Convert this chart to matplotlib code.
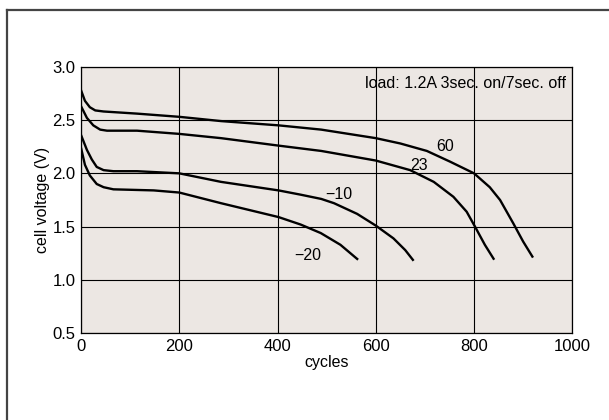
import matplotlib
matplotlib.use("Agg")
import matplotlib.pyplot as plt
from matplotlib.lines import Line2D

# Cell voltage vs. cycle count at different temperatures (°C)
cycles_60 = [0, 8, 18, 29, 46, 114, 200, 285, 402, 489, 600, 650, 704, 751,
             800, 832, 853, 880, 900, 920]
volts_60 = [2.78, 2.68, 2.62, 2.59, 2.58, 2.56, 2.53, 2.49, 2.45, 2.41, 2.33,
            2.28, 2.21, 2.11, 2.00, 1.87, 1.75, 1.53, 1.36, 1.21]

cycles_23 = [0, 12, 25, 39, 53, 114, 200, 285, 402, 489, 600, 670, 718, 758,
             785, 802, 822, 841]
volts_23 = [2.63, 2.52, 2.45, 2.41, 2.40, 2.40, 2.37, 2.33, 2.26, 2.21, 2.12,
            2.03, 1.92, 1.78, 1.64, 1.50, 1.33, 1.19]

cycles_m10 = [0, 12, 22, 32, 46, 66, 114, 200, 285, 402, 447, 489, 515, 562,
              600, 636, 660, 677]
volts_m10 = [2.36, 2.22, 2.13, 2.06, 2.03, 2.02, 2.02, 2.00, 1.92, 1.84, 1.80,
             1.76, 1.72, 1.62, 1.51, 1.39, 1.28, 1.18]

cycles_m20 = [0, 8, 18, 32, 46, 66, 148, 200, 285, 402, 447, 488, 528, 564]
volts_m20 = [2.24, 2.08, 1.98, 1.90, 1.87, 1.85, 1.84, 1.82, 1.72, 1.59, 1.52,
             1.44, 1.33, 1.19]

curve_labels = ["60", "23", "\u221210", "\u221220"]
label_pos = [(741, 2.25), (689, 2.07), (524, 1.80), (462, 1.23)]

x_ticks = [0, 200, 400, 600, 800, 1000]
y_ticks = [0.5, 1.0, 1.5, 2.0, 2.5, 3.0]

plt.rcParams["font.family"] = ["Liberation Sans", "DejaVu Sans"]

fig = plt.figure(figsize=(6.09, 4.20), dpi=100)
ax = fig.add_axes([81 / 609, 1 - 333.3 / 420, (572.3 - 81) / 609, (333.3 - 66.7) / 420])
ax.set_facecolor("#ece7e3")

for xs, ys in [(cycles_60, volts_60), (cycles_23, volts_23),
               (cycles_m10, volts_m10), (cycles_m20, volts_m20)]:
    ax.plot(xs, ys, color="black", lw=1.7, solid_joinstyle="round",
            solid_capstyle="butt", zorder=3)

for text, (x, y) in zip(curve_labels, label_pos):
    ax.text(x, y, text, fontsize=11.5, ha="center", va="center", zorder=4)

ax.text(988, 2.84, "load: 1.2A 3sec. on/7sec. off", fontsize=11.5,
        ha="right", va="center")

ax.set_xlim(0, 1000)
ax.set_ylim(0.5, 3.0)
ax.set_xticks(x_ticks)
ax.set_yticks(y_ticks)
ax.set_yticklabels([f"{v:.1f}" for v in y_ticks])
ax.grid(True, color="black", lw=0.8)
ax.set_axisbelow(True)
ax.tick_params(length=0, labelsize=12, pad=4)
for sp in ax.spines.values():
    sp.set_color("black")
    sp.set_linewidth(0.9)

ax.set_xlabel("cycles", fontsize=11.5, labelpad=1)
ax.set_ylabel("cell voltage (V)", fontsize=11.5, labelpad=2)

# Frame lines along the top and left edges of the figure
fig.add_artist(Line2D([7 / 609, 1.0], [1 - 10 / 420, 1 - 10 / 420],
                      color="#444444", lw=1.6, transform=fig.transFigure))
fig.add_artist(Line2D([7 / 609, 7 / 609], [0.0, 1 - 10 / 420],
                      color="#444444", lw=1.6, transform=fig.transFigure))

fig.savefig("out.png", dpi=100, facecolor="white")
